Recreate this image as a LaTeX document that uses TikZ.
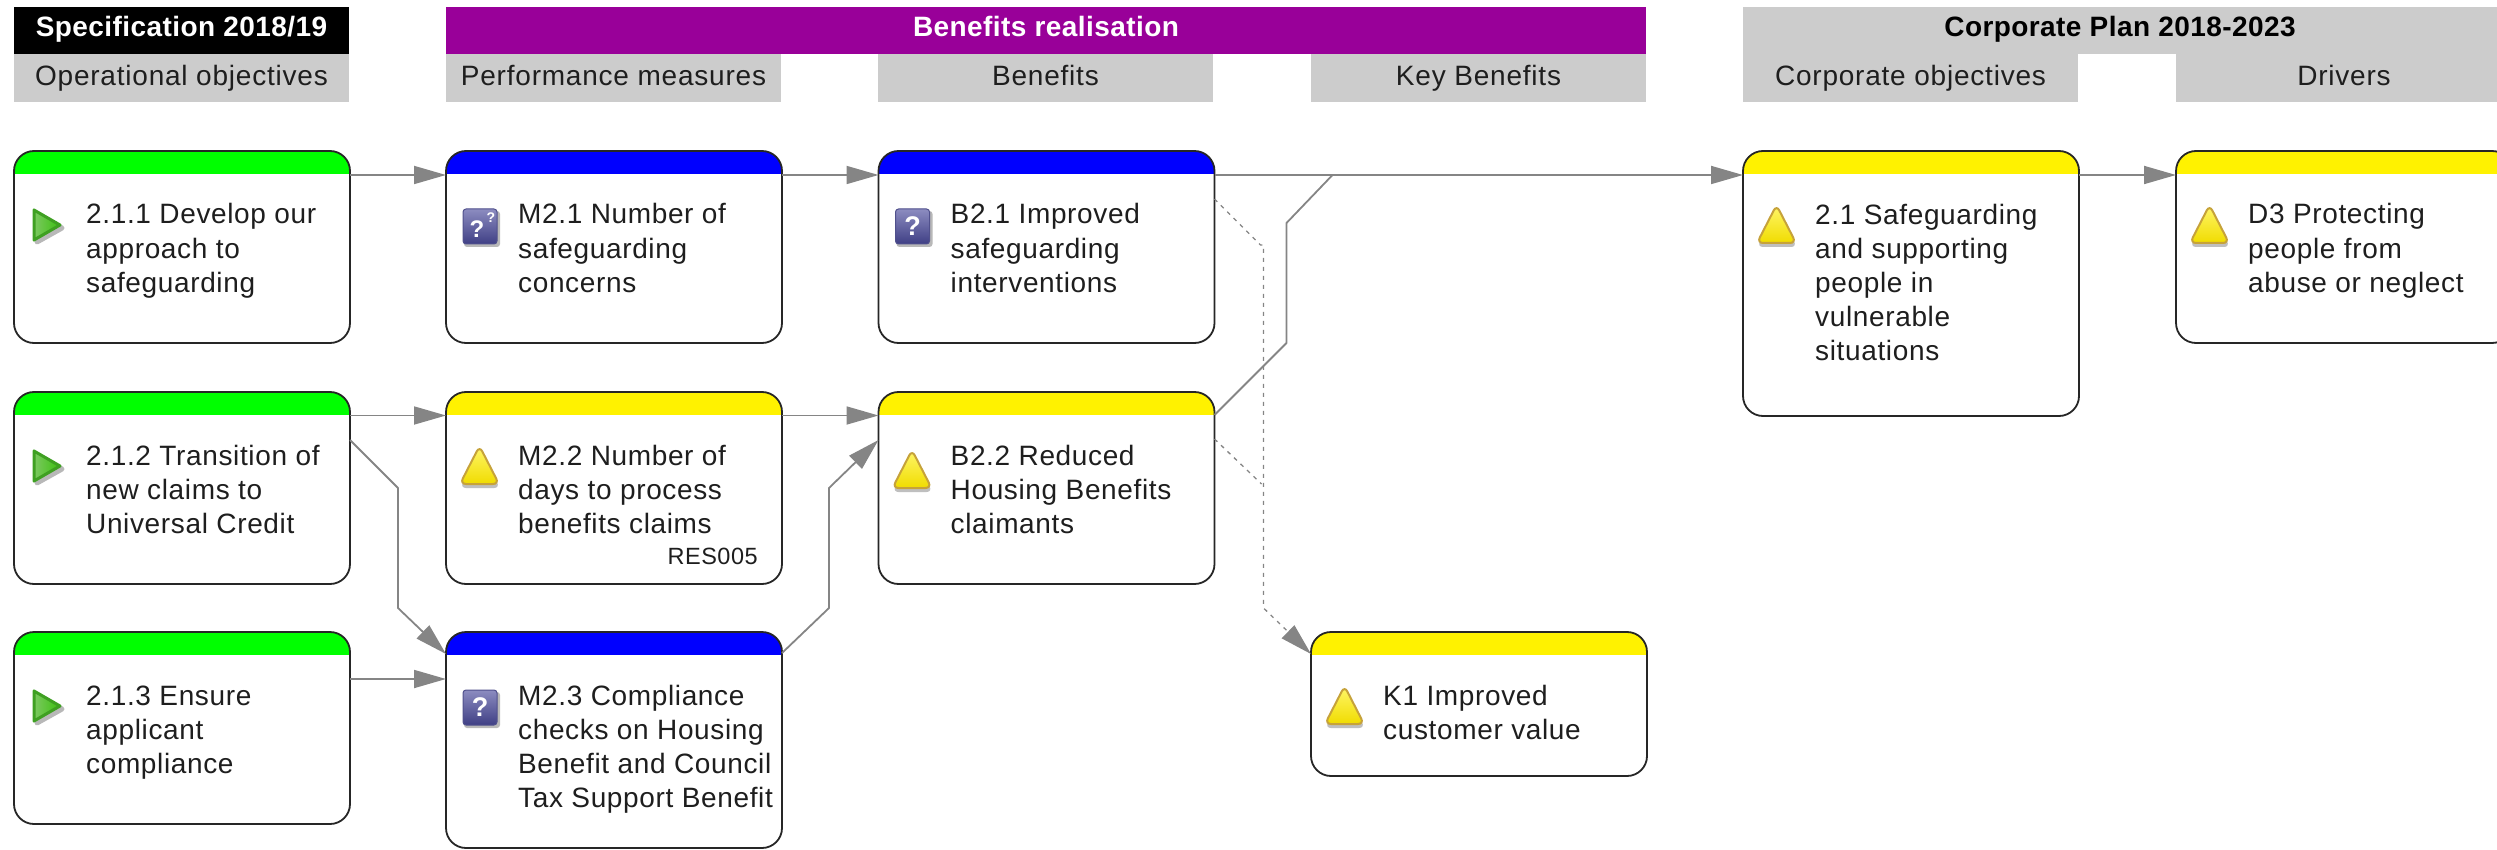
\documentclass[tikz,border=0pt]{standalone}
\usepackage{fontspec}
\setmainfont{Liberation Sans}
\newfontfamily\spacedfont[LetterSpace=2.3]{Liberation Sans}
\newfontfamily\subfont[LetterSpace=2.8]{Liberation Sans}
\newfontfamily\spacedbold[LetterSpace=1.5]{Liberation Sans Bold}
\usetikzlibrary{arrows.meta,calc}
\definecolor{hdrgrey}{HTML}{CCCCCC}
\definecolor{hdrpurple}{HTML}{990099}
\definecolor{linegrey}{HTML}{858585}
\definecolor{inkdark}{HTML}{1E1E1E}
\definecolor{goodlight}{HTML}{7CC860}
\definecolor{goodmid}{HTML}{3CC010}
\definecolor{goodedge}{HTML}{3FA022}
\definecolor{warnlight}{HTML}{FFF66A}
\definecolor{warnmid}{HTML}{F0DC00}
\definecolor{warnedge}{HTML}{C6A23A}
\definecolor{querylight}{HTML}{8C8CC0}
\definecolor{querydark}{HTML}{3F3F85}
\definecolor{queryedge}{HTML}{50508C}
\tikzset{
  x=1pt,y=-1pt,
  hdrbox/.style={anchor=north west,inner sep=0,outer sep=0,minimum height=#1,draw=none},
  toplabel/.style={font=\fontsize{28}{32}\spacedbold\selectfont,text height=20pt,text depth=7.5pt},
  sublabel/.style={font=\fontsize{28}{32}\subfont\selectfont,text=inkdark,text height=21pt,text depth=5.5pt},
  cardbox/.style={draw=black!85,line width=1.8pt,fill=white,rounded corners=20pt,anchor=north west,inner sep=0,outer sep=0,minimum width=336pt,
    path picture={\fill[#1,sharp corners] ([yshift=-23pt]path picture bounding box.north west) rectangle (path picture bounding box.north east);}},
  cardtext/.style={anchor=north west,inner sep=0,align=left,text=inkdark,font=\fontsize{28}{34}\spacedfont\selectfont},
  smalltext/.style={anchor=base east,inner sep=0,text=inkdark,font=\fontsize{23.5}{28}\spacedfont\selectfont},
  link/.style={draw=linegrey,line width=1.8pt,-{Triangle[length=32pt,width=18pt,fill=linegrey]},line join=round},
  softlink/.style={draw=linegrey,line width=1.3pt,dash pattern=on 4pt off 5pt,-{Triangle[length=32pt,width=18pt,fill=linegrey]},line join=round},
  softlinknohead/.style={draw=linegrey,line width=1.3pt,dash pattern=on 4pt off 5pt,line join=round},
}
\newcommand{\iconarrow}[2]{%
  \fill[black!28,line join=round,line width=5pt,draw=black!28] (#1+23,#2+63) -- (#1+23,#2+91) -- (#1+48,#2+77) -- cycle;
  \shade[left color=goodlight,right color=goodmid,draw=goodedge,line width=3pt,line join=round]
    (#1+20,#2+59) -- (#1+20,#2+89) -- (#1+46,#2+74) -- cycle;}
\newcommand{\iconwarn}[2]{%
  \fill[black!25,rounded corners=6pt] (#1+34,#2+58) -- (#1+14,#2+96) -- (#1+54,#2+96) -- cycle;
  \shade[top color=warnlight,bottom color=warnmid,draw=warnedge,line width=2pt,rounded corners=6pt]
    (#1+33.5,#2+54) -- (#1+14,#2+92) -- (#1+53,#2+92) -- cycle;}
\newcommand{\iconquery}[2]{%
  \fill[black!28,rounded corners=3pt] (#1+18,#2+60) rectangle (#1+54,#2+96);
  \shade[top color=querylight,bottom color=querydark,draw=queryedge,line width=1pt,rounded corners=3pt]
    (#1+17,#2+58) rectangle (#1+51,#2+93);
  \node[text=white,inner sep=0,font=\fontsize{27}{27}\bfseries\selectfont] at (#1+34,#2+75) {?};}
\newcommand{\iconqueries}[2]{%
  \fill[black!28,rounded corners=3pt] (#1+18,#2+60) rectangle (#1+54,#2+96);
  \shade[top color=querylight,bottom color=querydark,draw=queryedge,line width=1pt,rounded corners=3pt]
    (#1+17,#2+58) rectangle (#1+51,#2+93);
  \node[text=white,inner sep=0,font=\fontsize{24}{24}\bfseries\selectfont] at (#1+31,#2+78) {?};
  \node[text=white,inner sep=0,font=\fontsize{14}{14}\bfseries\selectfont] at (#1+45,#2+67) {?};}
% \card[icon y shift]{name}{x}{y}{height}{colour}{icon}{text}
\newcommand{\card}[8][0]{%
  \node[cardbox=#6,minimum height=#5] (#2) at (#3,#4) {};
  \csname icon#7\endcsname{#3}{#4+#1}
  \node[cardtext] (#2t) at (#3+72,#4+49) {\strut#8};}
\begin{document}
\begin{tikzpicture}
\useasboundingbox (0,0) rectangle (2497,850);
\clip (0,0) rectangle (2497,850);
% column headers
\node[hdrbox=47.5pt,fill=black,minimum width=335pt,text=white,toplabel] (hSpec) at (14,7) {Specification 2018/19};
\node[hdrbox=47.5pt,fill=hdrgrey,minimum width=335pt,sublabel] (hOp) at (14,54.5) {Operational objectives};
\node[hdrbox=47.5pt,fill=hdrpurple,minimum width=1200pt,text=white,toplabel] (hBen) at (446,7) {Benefits realisation};
\node[hdrbox=47.5pt,fill=hdrgrey,minimum width=335pt,sublabel] (hPm) at (446,54.5) {Performance measures};
\node[hdrbox=47.5pt,fill=hdrgrey,minimum width=335pt,sublabel] (hB) at (878,54.5) {Benefits};
\node[hdrbox=47.5pt,fill=hdrgrey,minimum width=335pt,sublabel] (hK) at (1311,54.5) {Key Benefits};
\node[hdrbox=47.5pt,fill=hdrgrey,minimum width=754pt,text=black,toplabel] (hCorp) at (1743,7) {Corporate Plan 2018-2023};
\node[hdrbox=47.5pt,fill=hdrgrey,minimum width=335pt,sublabel] (hCo) at (1743,54.5) {Corporate objectives};
\node[hdrbox=47.5pt,fill=hdrgrey,minimum width=336pt,sublabel] (hD) at (2176,54.5) {Drivers};
% cards
\card{a}{14}{151}{192pt}{green}{arrow}{2.1.1 Develop our\\approach to\\safeguarding}
\card{b}{14}{392}{192pt}{green}{arrow}{2.1.2 Transition of\\new claims to\\Universal Credit}
\card{c}{14}{632}{192pt}{green}{arrow}{2.1.3 Ensure\\applicant\\compliance}
\card{m}{446}{151}{192pt}{blue}{queries}{M2.1 Number of\\safeguarding\\concerns}
\card{n}{446}{392}{192pt}{yellow}{warn}{M2.2 Number of\\days to process\\benefits claims}
\node[smalltext] (res) at (758,564) {RES005};
\card{o}{446}{632}{216pt}{blue}{query}{M2.3 Compliance\\checks on Housing\\Benefit and Council\\Tax Support Benefit}
\card{p}{878.5}{151}{192pt}{blue}{query}{B2.1 Improved\\safeguarding\\interventions}
\card[4]{q}{878.5}{392}{192pt}{yellow}{warn}{B2.2 Reduced\\Housing Benefits\\claimants}
\card{k}{1311}{632}{144pt}{yellow}{warn}{K1 Improved\\customer value}
\card{r}{1743}{151}{265pt}{yellow}{warn}{2.1 Safeguarding\\and supporting\\people in\\vulnerable\\situations}
\card{s}{2176}{151}{192pt}{yellow}{warn}{D3 Protecting\\people from\\abuse or neglect}
% connectors
\draw[link] ($(a.north east)+(0,24)$) -- ($(m.north west)+(0,24)$);
\draw[link] ($(m.north east)+(0,24)$) -- ($(p.north west)+(0,24)$);
\draw[link] ($(p.north east)+(0,24)$) -- ($(r.north west)+(0,24)$);
\draw[link] ($(r.north east)+(0,24)$) -- ($(s.north west)+(0,24)$);
\draw[link] ($(b.north east)+(0,23.5)$) -- ($(n.north west)+(0,23.5)$);
\draw[link] ($(n.north east)+(0,23.5)$) -- ($(q.north west)+(0,23.5)$);
\draw[link] ($(c.north east)+(0,47)$) -- ($(o.north west)+(0,47)$);
\draw[link] ($(b.north east)+(0,48)$) -- ++(48,48) -- ++(0,120) -- ($(o.north west)+(0,22)$);
\draw[link] ($(o.north east)+(0,21)$) -- ++(47,-45) -- ++(0,-120) -- ($(q.north west)+(0,48)$);
\draw[draw=linegrey,line width=1.8pt,line join=round] ($(q.north east)+(0,23)$) -- ++(72,-72) -- ++(0,-120) -- ++(46,-48);
\draw[softlink] ($(p.north east)+(0,48)$) -- ++(46,46) -- ++(3,0) -- ++(0,363) -- ($(k.north west)+(0,22)$);
\draw[softlinknohead] ($(q.north east)+(0,47)$) -- ++(47,45);
\end{tikzpicture}
\end{document}
